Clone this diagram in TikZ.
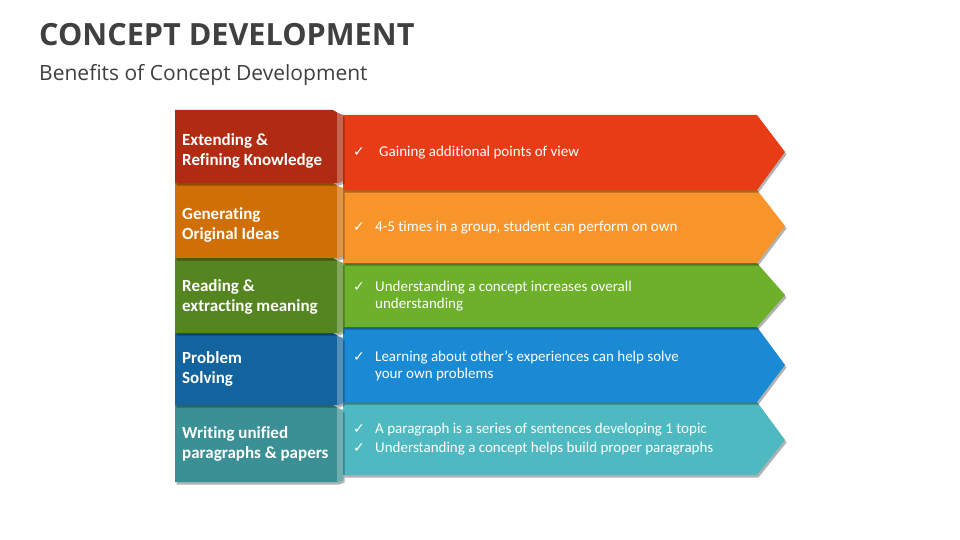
\documentclass[tikz,border=0pt]{standalone}
\usepackage{fontspec}
\setmainfont{Carlito}[Ligatures=NoCommon]
\newfontfamily\titlefont{Open Sans}
\newfontfamily\symfont{DejaVu Sans}
\usetikzlibrary{shadows}
\definecolor{titlegray}{HTML}{404040}
\definecolor{boxA}{HTML}{B02B11}\definecolor{arrA}{HTML}{E83C16}
\definecolor{boxB}{HTML}{CF6F05}\definecolor{arrB}{HTML}{F7942A}
\definecolor{boxC}{HTML}{548520}\definecolor{arrC}{HTML}{6DB02A}
\definecolor{boxD}{HTML}{13649E}\definecolor{arrD}{HTML}{1B8AD5}
\definecolor{boxE}{HTML}{3A9095}\definecolor{arrE}{HTML}{4EB9C1}
\tikzset{
  shade3d/.style={drop shadow={shadow xshift=1.5pt,shadow yshift=-2.5pt,opacity=0.3,fill=black}},
  sidestrip/.style={fill=white,fill opacity=0.28},
  lbl/.style={anchor=base west,inner sep=0pt,align=left,text=white,font=\bfseries\fontsize{17}{20}\selectfont},
  txt/.style={anchor=base west,inner sep=0pt,align=left,text=white,font=\fontsize{15}{17.5}\selectfont},
  chk/.style={anchor=base west,inner sep=0pt,text=white,font=\symfont\bfseries\fontsize{14}{16}\selectfont},
}
\newcommand{\arrowshape}[4]{% color, top, mid, bottom
  \fill[#1,shade3d] (343,#2) -- (757,#2) -- (785,#3) -- (757,#4) -- (343,#4) -- cycle;}
\newcommand{\leftbox}[3]{% color, top, bottom
  \fill[#1,shade3d] (175,#2) -- (333,#2) -- (338,#2+3) -- (343,#2+5) -- (343,#3-2) -- (338,#3) -- (175,#3) -- cycle;
  \fill[sidestrip] (337,#2+2) -- (343,#2+5) -- (343,#3-2) -- (337,#3) -- cycle;}
\begin{document}
\begin{tikzpicture}[x=1pt,y=-1pt]
\useasboundingbox (0,0) rectangle (960,540);
\fill[white] (0,0) rectangle (960,540);

\node[anchor=base west,inner sep=0pt,text=titlegray,font=\titlefont\bfseries\fontsize{30.6}{36}\selectfont] (title) at (39,46) {CONCEPT DEVELOPMENT};
\node[anchor=base west,inner sep=0pt,text=titlegray,font=\titlefont\fontsize{21}{25}\selectfont] (subtitle) at (39,80.5) {Benefits of Concept Development};

% arrows (bottom first so upper shadows fall on lower)
\arrowshape{arrE}{402}{440}{475}
\arrowshape{arrD}{327}{365}{402}
\arrowshape{arrC}{263}{295}{327}
\arrowshape{arrB}{190}{226}{263}
\arrowshape{arrA}{115}{152}{190}

% left boxes
\leftbox{boxE}{405}{482}
\leftbox{boxD}{333}{405}
\leftbox{boxC}{258}{333}
\leftbox{boxB}{183}{258}
\leftbox{boxA}{110}{183}

% left labels (anchored at the baseline of the last line)
\node[lbl] (l1) at (182,165) {Extending \&\\Refining Knowledge};
\node[lbl] (l2) at (182,239) {Generating\\Original Ideas};
\node[lbl] (l3) at (182,311) {Reading \&\\extracting meaning};
\node[lbl] (l4) at (182,383) {Problem\\Solving};
\node[lbl] (l5) at (182,458) {Writing unified\\paragraphs \& papers};

% arrow texts
\node[chk] (c1) at (353,157) {✓};
\node[txt] (t1) at (379,157) {Gaining additional points of view};
\node[chk] (c2) at (353,231) {✓};
\node[txt] (t2) at (375,231) {4-5 times in a group, student can perform on own};
\node[chk] (c3) at (353,291) {✓};
\node[txt] (t3) at (375,308.5) {Understanding a concept increases overall\\understanding};
\node[chk] (c4) at (353,361) {✓};
\node[txt] (t4) at (375,378.5) {Learning about other’s experiences can help solve\\your own problems};
\node[chk] (c5a) at (353,433) {✓};
\node[txt] (t5a) at (375,433) {A paragraph is a series of sentences developing 1 topic};
\node[chk] (c5b) at (353,452) {✓};
\node[txt] (t5b) at (375,452) {Understanding a concept helps build proper paragraphs};
\end{tikzpicture}
\end{document}
